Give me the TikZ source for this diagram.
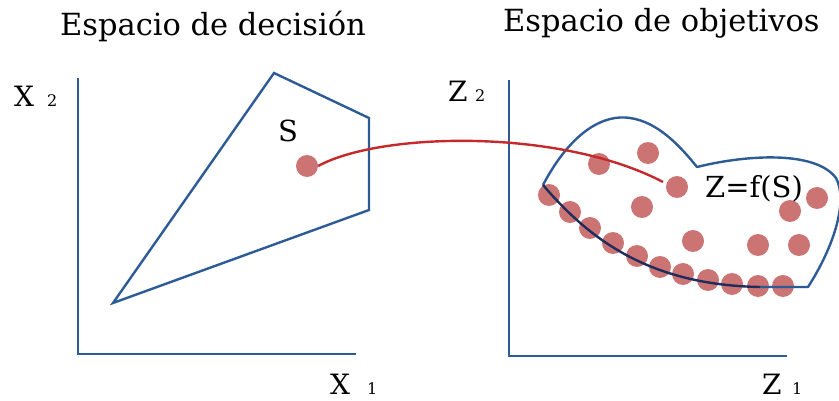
\documentclass[tikz,border=0pt]{standalone}
\usepackage{fontspec}
\setmainfont{DejaVu Serif}
\definecolor{axisblue}{HTML}{2D5B96}
\definecolor{curvered}{HTML}{C42A2C}
\definecolor{dotc}{HTML}{CC7474}
\definecolor{navy}{HTML}{1E2D5C}
\tikzset{
  txt/.style={inner sep=0pt, anchor=base west, text=black, text depth=0pt},
  title/.style={txt, font=\fontsize{30.5}{34}\selectfont},
  lab/.style={txt, font=\fontsize{28}{32}\selectfont},
  big/.style={txt, font=\fontsize{29}{32}\selectfont},
  sub/.style={txt, font=\fontsize{16}{18}\selectfont},
  dot/.style={circle, fill=dotc, draw=none, minimum size=22pt, inner sep=0pt},
  ax/.style={draw=axisblue, line width=2.4pt},
}
\begin{document}
\begin{tikzpicture}[x=1pt,y=-1pt]
\useasboundingbox (0,0) rectangle (839,401);
% titles
\node[title] (t1) at (60,36) {Espacio de decisión};
\node[title] (t2) at (503,32) {Espacio de objetivos};
% left axes
\coordinate (o1) at (78,354);
\coordinate (y1) at (78,78);
\coordinate (x1) at (356,354);
\draw[ax] (y1) -- (o1) -- (x1);
\node[lab] (lx2) at (14,107) {X};
\node[sub] (lx2s) at (47,107) {2};
\node[lab] (lx1) at (330,394) {X};
\node[sub] (lx1s) at (367,394) {1};
% polygon
\coordinate (p1) at (274,73);
\coordinate (p2) at (369,118);
\coordinate (p3) at (369,210);
\coordinate (p4) at (113,303);
\draw[ax, line join=miter] (p1) -- (p2) -- (p3) -- (p4) -- cycle;
\node[big] (ls) at (278,142) {S};
\node[dot] (s) at (307,166) {};
% right axes
\coordinate (o2) at (509,356);
\coordinate (y2) at (509,80);
\coordinate (x2) at (787,356);
\draw[ax] (y2) -- (o2) -- (x2);
\node[lab] (lz2) at (448,102) {Z};
\node[sub] (lz2s) at (475,102) {2};
\node[lab] (lz1) at (762,394) {Z};
\node[sub] (lz1s) at (792,394) {1};
% dots in objective space
\foreach \n/\x/\y in {a/648/153, b/599/164, c/677/187, d/642/207, e/817/198, f/790/211,
  g/693/241, h/758/245, i/799/245,
  p1/549/195, p2/570/212, p3/590/228, p4/613/243, p5/637/256, p6/660/267,
  p7/683/274, p8/708/280, p9/732/284, p10/758/286, p11/783/286}
  \node[dot] (d\n) at (\x,\y) {};
% blob
\coordinate (b0) at (543,185);
\coordinate (bn) at (697,167);
\coordinate (br) at (808,287);
\coordinate (bl) at (760,287);
\draw[draw=axisblue, line width=2.4pt, line join=round]
  (b0) .. controls (572,130) and (605,114) .. (630,118)
  .. controls (658,122) and (680,146) .. (bn)
  .. controls (745,155) and (815,150) .. (836,178)
  .. controls (848,200) and (835,245) .. (br) -- (bl);
\draw[draw=navy, line width=2.4pt] (b0) .. controls (590,240) and (650,285) .. (bl);
% mapping curve
\coordinate (zend) at (663,182);
\draw[draw=curvered, line width=2.4pt] (s.east) .. controls (380,132) and (560,128) .. (zend);
\node[big] (lz) at (705,198) {Z=f(S)};
\end{tikzpicture}
\end{document}
